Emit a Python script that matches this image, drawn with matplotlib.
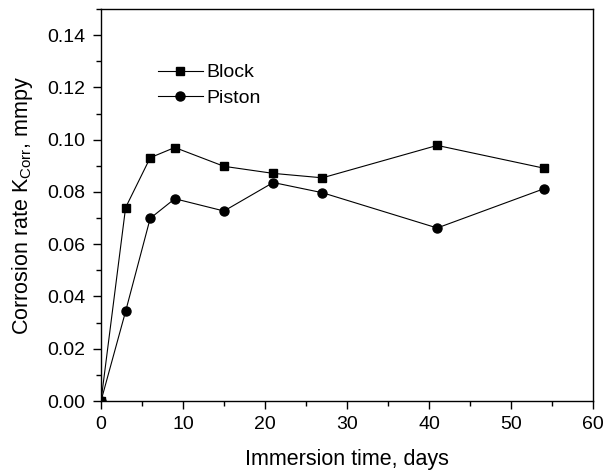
import numpy as np
import matplotlib
matplotlib.use("Agg")
import matplotlib.pyplot as plt
from matplotlib.ticker import MultipleLocator

plt.rcParams["font.family"] = ["Liberation Sans", "DejaVu Sans"]
plt.rcParams["mathtext.fontset"] = "custom"
plt.rcParams["mathtext.rm"] = "Liberation Sans"
plt.rcParams["mathtext.it"] = "Liberation Sans"

# Immersion time (days) and corrosion rates (mmpy)
days = [0, 3, 6, 9, 15, 21, 27, 41, 54]
block = [0.0, 0.0740, 0.0931, 0.0970, 0.0898, 0.0871, 0.0854, 0.0978, 0.0891]
piston = [0.0, 0.0343, 0.0699, 0.0774, 0.0727, 0.0836, 0.0797, 0.0662, 0.0812]

fig = plt.figure(figsize=(6.05, 4.74), dpi=100)
ax = fig.add_axes([101/605, 1 - 401/474, 492/605, 392/474])

ax.plot(days, block, color="black", marker="s", markersize=6, linewidth=0.8, label="Block")
ax.plot(days, piston, color="black", marker="o", markersize=6.5, linewidth=0.8, label="Piston")

ax.set_xlim(0, 60)
ax.set_ylim(0, 0.15)
ax.set_xticks(np.arange(0, 61, 10))
ax.set_yticks(np.arange(0, 0.141, 0.02))
ax.set_yticklabels(["%.2f" % v for v in np.arange(0, 0.141, 0.02)])
ax.xaxis.set_minor_locator(MultipleLocator(5))
ax.yaxis.set_minor_locator(MultipleLocator(0.01))
ax.tick_params(which="major", direction="out", length=6, width=1, labelsize=14, pad=5)
ax.tick_params(which="minor", direction="out", length=3.5, width=1)
for s in ax.spines.values():
    s.set_linewidth(1)

ax.set_xlabel("Immersion time, days", fontsize=15.5, labelpad=11)
ax.set_ylabel("Corrosion rate K$_{\\mathrm{Corr}}$, mmpy", fontsize=15.5, labelpad=9)

ax.legend(loc="upper left", bbox_to_anchor=(0.08, 0.905), frameon=False, fontsize=14,
          handlelength=2.3, handletextpad=0.2, labelspacing=0.4)

fig.savefig("out.png", dpi=100)
